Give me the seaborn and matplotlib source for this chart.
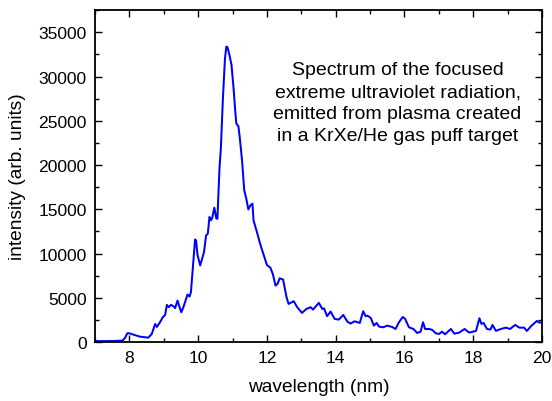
import matplotlib
matplotlib.use("Agg")
import matplotlib.pyplot as plt
from matplotlib.ticker import MultipleLocator
import pandas as pd
import seaborn as sns

# EUV emission spectrum (wavelength in nm, intensity in arb. units)
wavelength = [
    7.00, 7.40, 7.80, 7.88, 7.94, 8.00, 8.10, 8.31, 8.55, 8.65, 8.75, 8.80,
    8.89, 8.97, 9.04, 9.09, 9.14, 9.21, 9.28, 9.33, 9.40, 9.46, 9.51, 9.57,
    9.69, 9.75, 9.79, 9.85, 9.91, 9.94, 9.98, 10.06, 10.14, 10.17, 10.23,
    10.28, 10.33, 10.37, 10.41, 10.47, 10.53, 10.56, 10.62, 10.66, 10.72,
    10.78, 10.82, 10.85, 10.91, 10.97, 11.03, 11.08, 11.11, 11.17, 11.21,
    11.28, 11.34, 11.40, 11.46, 11.52, 11.58, 11.61, 11.71, 11.81, 11.91,
    12.00, 12.10, 12.17, 12.25, 12.31, 12.37, 12.47, 12.57, 12.63, 12.78,
    12.88, 13.02, 13.15, 13.27, 13.34, 13.40, 13.51, 13.61, 13.66, 13.75,
    13.85, 13.97, 14.09, 14.22, 14.34, 14.43, 14.55, 14.70, 14.80, 14.87,
    14.92, 15.02, 15.11, 15.19, 15.26, 15.38, 15.50, 15.64, 15.74, 15.84,
    15.95, 16.02, 16.13, 16.26, 16.37, 16.47, 16.54, 16.60, 16.72, 16.81,
    16.91, 17.01, 17.09, 17.18, 17.35, 17.45, 17.59, 17.75, 17.88, 18.08,
    18.18, 18.24, 18.30, 18.40, 18.50, 18.56, 18.66, 18.80, 18.95, 19.07,
    19.22, 19.34, 19.48, 19.56, 19.68, 19.85, 19.92, 20.00,
]
intensity = [
    100, 100, 150, 500, 985, 985, 850, 600, 490, 900, 2040, 1700,
    2230, 2790, 3060, 4190, 3930, 4190, 4050, 3830, 4680, 3930, 3360, 3930,
    5360, 5140, 5630, 8650, 11590, 11480, 9860, 8650, 9780, 10160, 12040,
    12230, 14130, 13750, 14020, 15180, 13940, 13940, 19600, 21870, 27530,
    32060, 33380, 33340, 32440, 31310, 28660, 26020, 24700, 24390, 23130,
    20360, 17140, 16190, 14990, 15440, 15630, 13750, 12420, 11000, 9780,
    8700, 8400, 7700, 6380, 6570, 7200, 7060, 5060, 4300, 4610,
    3930, 3290, 3740, 3930, 3660, 3930, 4420, 3740, 3800, 2910,
    3440, 2610, 2530, 3060, 2300, 2080, 2340, 2150, 3480, 2910,
    2980, 2720, 1850, 2150, 1740, 1660, 1850, 1700, 1470, 2230,
    2830, 2610, 1660, 1470, 1020, 1170, 2230, 1470, 1470, 1360,
    980, 910, 1170, 870, 1470, 940, 1060, 1470, 1060, 1250,
    2680, 2040, 2150, 1470, 1400, 1930, 1250, 1470, 1620, 1470,
    1930, 1620, 1620, 1250, 1780, 2380, 2190, 2230,
]

caption = ("Spectrum of the focused\n"
           "extreme ultraviolet radiation,\n"
           "emitted from plasma created\n"
           "in a KrXe/He gas puff target")

sns.set_style("ticks")
plt.rcParams["font.family"] = ["Liberation Sans", "DejaVu Sans"]
plt.rcParams["text.color"] = "black"
plt.rcParams["axes.labelcolor"] = "black"

df = pd.DataFrame({"wavelength": wavelength, "intensity": intensity})

fig = plt.figure(figsize=(5.52, 4.02), dpi=100)
ax = fig.add_axes([0.1721, 0.1468, 0.8098, 0.8266])

sns.lineplot(data=df, x="wavelength", y="intensity", ax=ax,
             color="#0000ff", linewidth=1.45)

ax.set_xlim(7, 20)
ax.set_ylim(0, 37560)
ax.xaxis.set_major_locator(MultipleLocator(2))
ax.xaxis.set_minor_locator(MultipleLocator(1))
ax.yaxis.set_major_locator(MultipleLocator(5000))
ax.yaxis.set_minor_locator(MultipleLocator(2500))
ax.tick_params(which="both", direction="in", top=True, right=True,
               colors="black", labelsize=12.6, width=1.0)
ax.tick_params(which="major", length=5, pad=6)
ax.tick_params(which="minor", length=3)
for s in ax.spines.values():
    s.set_linewidth(1.3)
    s.set_color("black")

ax.set_xlabel("wavelength (nm)", fontsize=13.8, labelpad=9)
ax.set_ylabel("intensity (arb. units)", fontsize=13.8, labelpad=9)

ax.text(0.677, 0.846, caption, transform=ax.transAxes, ha="center", va="top",
        fontsize=14.0, linespacing=1.40, color="black")

fig.savefig("out.png", dpi=100)
